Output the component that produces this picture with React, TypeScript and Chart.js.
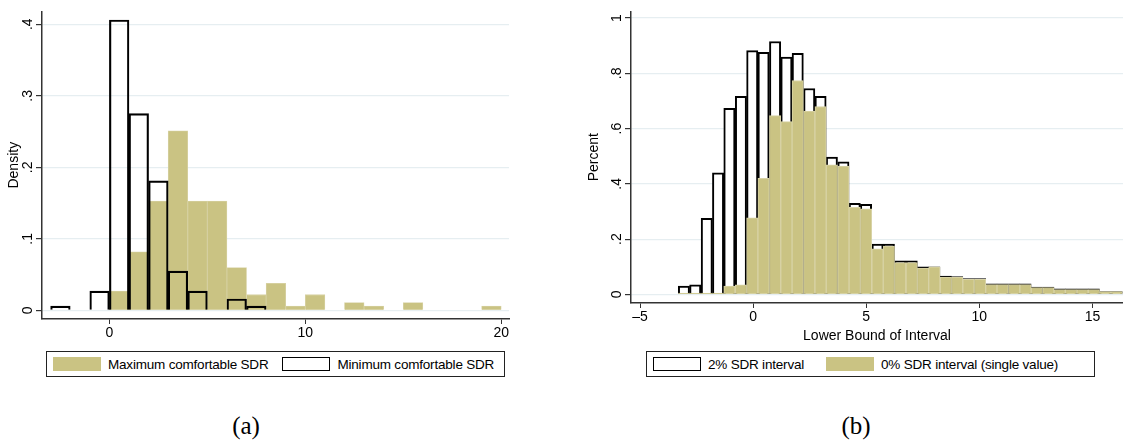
import { useEffect, useRef } from "react"
import { Chart, registerables } from "chart.js"

Chart.register(...registerables)

// Panel (a): bin centres (width 1) and densities
const binsA = [-2.5, -0.5, 0.5, 1.5, 2.5, 3.5, 4.5, 5.5, 6.5, 7.5, 8.5, 9.5, 10.5, 12.5, 13.5, 15.5, 19.5]
const maxSdr = [0, 0, 0.027, 0.082, 0.153, 0.251, 0.153, 0.153, 0.06, 0.022, 0.038, 0.006, 0.022, 0.011, 0.006, 0.011, 0.006]
const minSdr = [0.006, 0.027, 0.406, 0.275, 0.181, 0.055, 0.027, 0, 0.016, 0.006, 0, 0, 0, 0, 0, 0, 0]
const ticksAX = [0, 10, 20]
const ticksAY = [0, 0.1, 0.2, 0.3, 0.4]

// Panel (b): bin centres (width ~0.5) and percents
const binsB = [-3.06, -2.56, -2.05, -1.55, -1.05, -0.54, -0.04, 0.46, 0.97, 1.47, 1.97, 2.48, 2.98, 3.48, 3.99, 4.49, 4.99, 5.5, 6.0, 6.5, 7.01, 7.51, 8.01, 8.52, 9.02, 9.52, 10.03, 10.53, 11.03, 11.54, 12.04, 12.54, 13.05, 13.55, 14.05, 14.56, 15.06, 15.56, 16.07]
const interval2 = [0.03, 0.035, 0.275, 0.44, 0.673, 0.717, 0.882, 0.876, 0.915, 0.859, 0.872, 0.745, 0.717, 0.497, 0.48, 0.33, 0.326, 0.182, 0.182, 0.122, 0.122, 0.1, 0.1, 0.066, 0.065, 0.057, 0.057, 0.038, 0.038, 0.038, 0.038, 0.027, 0.027, 0.02, 0.02, 0.02, 0.02, 0.01, 0.01]
const single0 = [0.005, 0.005, 0.005, 0.005, 0.03, 0.035, 0.277, 0.42, 0.647, 0.625, 0.774, 0.663, 0.68, 0.469, 0.464, 0.315, 0.31, 0.165, 0.175, 0.115, 0.115, 0.095, 0.1, 0.063, 0.063, 0.055, 0.055, 0.036, 0.036, 0.036, 0.036, 0.025, 0.025, 0.018, 0.018, 0.018, 0.018, 0.01, 0.01]
const ticksBX = [-5, 0, 5, 10, 15]
const ticksBY = [0, 0.2, 0.4, 0.6, 0.8, 1]

const OLIVE = "rgb(202,195,131)"
const OLIVE_EDGE = "rgb(216,211,166)"
const SANS = "'Liberation Sans', Arial, sans-serif"

const fmt = (v: number) => (v === 0 ? "0" : v === 1 ? "1" : String(v).replace(/^0/, ""))

const rotatedYTicks = {
  id: "rotatedYTicks",
  afterDraw(chart: any) {
    const y = chart.scales.y
    const ctx = chart.ctx
    ctx.save()
    ctx.fillStyle = "#000"
    ctx.font = `14px ${SANS}`
    ctx.textAlign = "center"
    ctx.textBaseline = "middle"
    y.ticks.forEach((t: any) => {
      const py = y.getPixelForValue(t.value)
      ctx.save()
      ctx.translate(y.right - 14, py)
      ctx.rotate(-Math.PI / 2)
      ctx.fillText(fmt(t.value), 0, 0)
      ctx.restore()
    })
    ctx.restore()
  },
}

function makeOptions(o: {
  xmin: number; xmax: number; ymin: number; ymax: number
  xt: number[]; yt: number[]; yTitle: string; xTitle?: string
  yWidth: number; xHeight: number; ytitlePad: number
}): any {
  return {
    animation: false,
    responsive: false,
    maintainAspectRatio: false,
    layout: { padding: { top: 0, right: 0, left: 0, bottom: 0 } },
    plugins: { legend: { display: false }, tooltip: { enabled: false } },
    scales: {
      x: {
        type: "linear",
        offset: false,
        min: o.xmin,
        max: o.xmax,
        afterBuildTicks: (s: any) => { s.ticks = o.xt.map((v) => ({ value: v })) },
        afterFit: (s: any) => { s.height = o.xHeight },
        grid: { drawOnChartArea: false, drawTicks: true, tickLength: 5, color: "#333", offset: false },
        border: { color: "#333", width: 1.5 },
        ticks: { color: "#000", font: { family: SANS, size: 14 }, maxRotation: 0, padding: 1, callback: (v: number) => (v < 0 ? "\u2013" + Math.abs(v) : String(v)) },
        title: o.xTitle ? { display: true, text: o.xTitle, color: "#000", font: { family: SANS, size: 14 }, padding: 0 } : { display: false },
      },
      y: {
        min: o.ymin,
        max: o.ymax,
        afterBuildTicks: (s: any) => { s.ticks = o.yt.map((v) => ({ value: v })) },
        afterFit: (s: any) => { s.width = o.yWidth },
        grid: { color: "rgb(230,238,241)", lineWidth: 1.2, tickLength: 6, tickColor: "#333" },
        border: { color: "#333", width: 1.5 },
        ticks: { color: "rgba(0,0,0,0)", font: { family: SANS, size: 14 } },
        title: { display: true, text: o.yTitle, color: "#000", font: { family: SANS, size: 14 }, padding: { top: 6, bottom: o.ytitlePad } },
      },
    },
  }
}

export default function App() {
  const refA = useRef<HTMLCanvasElement>(null)
  const refB = useRef<HTMLCanvasElement>(null)

  useEffect(() => {
    if (!refA.current || !refB.current) return
    const common = { barPercentage: 1, categoryPercentage: 1, grouped: false }
    const chartA = new Chart(refA.current, {
      type: "bar",
      data: {
        datasets: [
          {
            label: "Minimum comfortable SDR",
            data: binsA.map((x, i) => ({ x, y: minSdr[i] })),
            backgroundColor: "rgba(0,0,0,0)",
            borderColor: "#000",
            borderWidth: 1.5,
            order: 1,
            ...common,
          },
          {
            label: "Maximum comfortable SDR",
            data: binsA.map((x, i) => ({ x, y: maxSdr[i] })),
            backgroundColor: OLIVE,
            borderColor: OLIVE_EDGE,
            borderWidth: 0.8,
            order: 2,
            ...common,
          },
        ],
      } as any,
      options: makeOptions({
        xmin: -3.44, xmax: 20.4, ymin: -0.012, ymax: 0.418,
        xt: ticksAX, yt: ticksAY, yTitle: "Density",
        yWidth: 42, xHeight: 26, ytitlePad: 8,
      }),
      plugins: [rotatedYTicks],
    })
    const chartB = new Chart(refB.current, {
      type: "bar",
      data: {
        datasets: [
          {
            label: "0% SDR interval (single value)",
            data: binsB.map((x, i) => ({ x, y: single0[i] })),
            backgroundColor: OLIVE,
            borderColor: OLIVE_EDGE,
            borderWidth: 1,
            order: 1,
            ...common,
          },
          {
            label: "2% SDR interval",
            data: binsB.map((x, i) => ({ x, y: interval2[i] })),
            backgroundColor: "#fff",
            borderColor: "#000",
            borderWidth: 2,
            order: 2,
            ...common,
          },
        ],
      } as any,
      options: makeOptions({
        xmin: -5.4, xmax: 16.35, ymin: -0.031, ymax: 1.024,
        xt: ticksBX, yt: ticksBY, yTitle: "Percent", xTitle: "Lower Bound of Interval",
        yWidth: 51, xHeight: 42, ytitlePad: 14,
      }),
      plugins: [rotatedYTicks],
    })
    return () => {
      chartA.destroy()
      chartB.destroy()
    }
  }, [])

  const legendBox: React.CSSProperties = {
    position: "absolute", top: 351, height: 26, border: "1px solid #222", background: "#fff",
    display: "flex", alignItems: "center", fontFamily: SANS, fontSize: 13.5, color: "#000",
    boxSizing: "border-box", whiteSpace: "nowrap", letterSpacing: -0.2,
  }
  const swatchFill: React.CSSProperties = { width: 48, height: 14, background: OLIVE, marginRight: 7, flex: "none" }
  const swatchLine: React.CSSProperties = { width: 46, height: 12, border: "1.5px solid #000", marginRight: 7, flex: "none" }
  const caption: React.CSSProperties = {
    position: "absolute", top: 412, fontFamily: "'Liberation Serif', serif", fontSize: 25, color: "#000",
    transform: "translateX(-50%)",
  }

  return (
    <div style={{ position: "absolute", left: 0, top: 0, width: 1123, height: 447, background: "#fff", overflow: "hidden" }}>
      <canvas ref={refA} width={510} height={345} style={{ position: "absolute", left: 0, top: 0, width: 510, height: 345 }} />
      <canvas ref={refB} width={543} height={345} style={{ position: "absolute", left: 580, top: 0, width: 543, height: 345 }} />
      <div style={{ ...legendBox, left: 46, width: 459, paddingLeft: 6 }}>
        <div style={swatchFill} />
        <span style={{ marginRight: 14 }}>Maximum comfortable SDR</span>
        <div style={swatchLine} />
        <span>Minimum comfortable SDR</span>
      </div>
      <div style={{ ...legendBox, left: 646, width: 449, paddingLeft: 6 }}>
        <div style={swatchLine} />
        <span style={{ marginRight: 22 }}>2% SDR interval</span>
        <div style={swatchFill} />
        <span>0% SDR interval (single value)</span>
      </div>
      <div style={{ ...caption, left: 246 }}>(a)</div>
      <div style={{ ...caption, left: 856 }}>(b)</div>
    </div>
  )
}
